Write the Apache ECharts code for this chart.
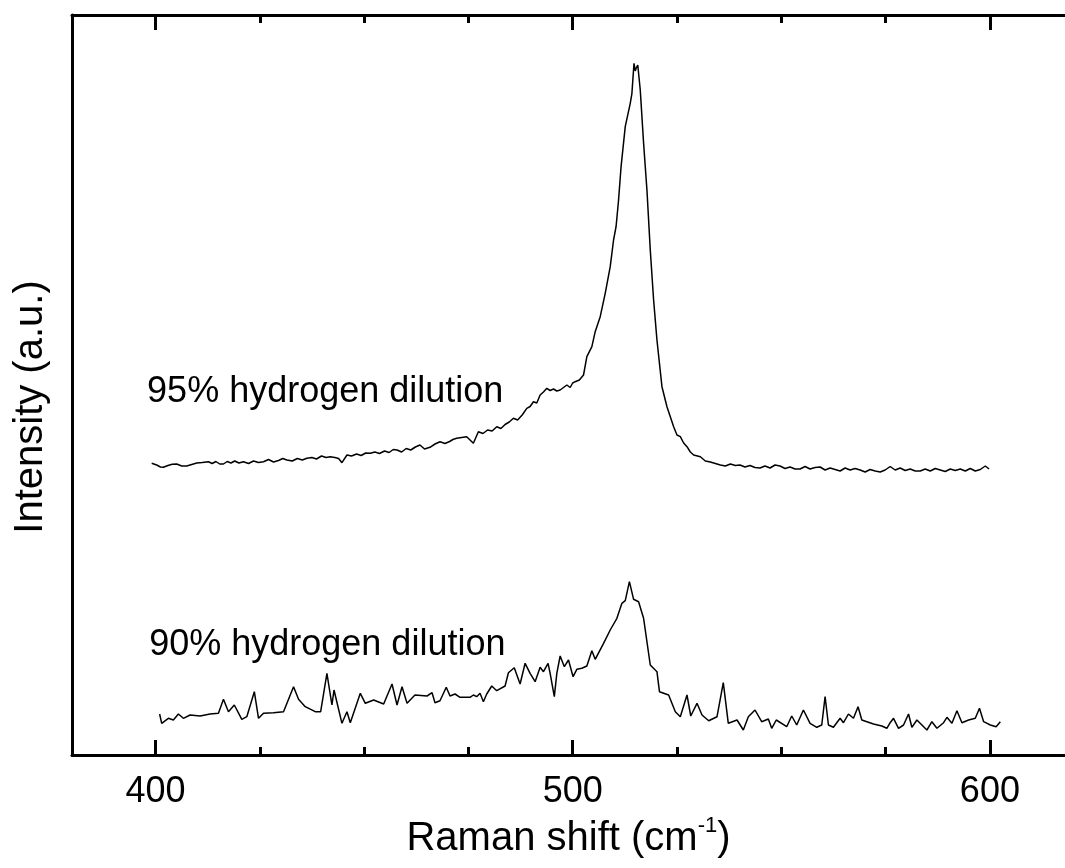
<!DOCTYPE html>
<html>
<head>
<meta charset="utf-8">
<title>Raman spectra</title>
<script src="https://cdn.jsdelivr.net/npm/echarts@6/dist/echarts.min.js"></script>
<style>
  html, body { margin: 0; padding: 0; background: #fff; }
  #chart { width: 1065px; height: 868px; }
</style>
</head>
<body>
<div id="chart"></div>
<script>
const FONT = '"Liberation Sans", Arial, Helvetica, sans-serif';

// Axis range and tick positions (Raman shift, cm^-1)
const xRange = [380, 618];
const majorTicks = [400, 500, 600];
const minorTicks = [425, 450, 475, 525, 550, 575];
const yRange = [0, 740];

// Curve names, also drawn as the labels beside each trace
const seriesNames = ['95% hydrogen dilution', '90% hydrogen dilution'];
// Where each label starts: [Raman shift, intensity]
const labelAnchors = [[398.0, 363.3], [398.5, 109.5]];

// Spectrum, 95% hydrogen dilution: [Raman shift, intensity (a.u.)]
const dilution95 = [
  [399.1, 291.7], [400.3, 290], [401.2, 288], [401.9, 287.7], [403.0, 289.5], [404.0, 290.8],
  [405.1, 291], [406.3, 289], [407.5, 289], [408.7, 290.5], [409.9, 292], [411.2, 292.5],
  [412.7, 293.3], [413.6, 291.5], [414.5, 293.5], [415.4, 291], [416.3, 291], [417.2, 293.5],
  [418.1, 292], [419.0, 294], [420.0, 292], [421.1, 293.3], [422.3, 291.5], [423.5, 294],
  [424.7, 292.5], [425.9, 293.3], [427.1, 295.5], [428.3, 293], [429.5, 294.5], [430.5, 296.5],
  [431.5, 295], [432.8, 294], [434.0, 296.5], [435.2, 295], [436.3, 296.7], [437.5, 297.5],
  [438.6, 296], [439.8, 299], [440.9, 297.5], [441.9, 298.3], [443.0, 297.5], [443.9, 296.5],
  [444.7, 292.3], [445.9, 300], [447.0, 299], [448.2, 301], [449.3, 299.5], [450.4, 302],
  [451.5, 301.7], [452.6, 303], [453.7, 301.5], [454.9, 304], [456.0, 302.5], [457.0, 305.5],
  [457.9, 305], [459.0, 303], [460.1, 306.5], [461.2, 305], [462.3, 308], [463.4, 310],
  [464.5, 306], [465.8, 307.7], [467.0, 311], [468.2, 313.3], [469.4, 311.5], [470.5, 313.5],
  [471.3, 315.5], [472.2, 316.7], [473.4, 317.5], [474.6, 318.3], [475.4, 315], [476.2, 311.7],
  [477.4, 323.3], [478.5, 321.5], [479.6, 325], [480.7, 324], [481.8, 328.3], [482.8, 326.5],
  [483.8, 330.5], [484.8, 333], [485.8, 336.7], [486.8, 335], [487.9, 340], [489.0, 346.7],
  [489.8, 348.5], [490.6, 353.3], [491.4, 352], [492.2, 360], [493.0, 363], [493.8, 366.7],
  [494.6, 364.5], [495.4, 366], [496.2, 364], [497.0, 365], [497.8, 367.5], [498.6, 370],
  [499.4, 367.5], [500.0, 372], [500.6, 373.3], [501.6, 375], [502.6, 380], [503.4, 398.3],
  [504.6, 408.3], [505.4, 423.3], [506.6, 438.3], [507.8, 461.7], [509.0, 488.3], [509.8, 515],
  [510.4, 528.3], [511.0, 555], [511.6, 588.3], [512.6, 628.3], [513.8, 651.7], [514.2, 661.7],
  [514.7, 691.7], [515.0, 684], [515.2, 686.7], [515.6, 690], [516.2, 665], [517.0, 611.7],
  [517.8, 565], [518.6, 505], [519.4, 455], [520.2, 415], [521.4, 368.3], [522.6, 348.3],
  [524.2, 328.3], [525.0, 320], [525.8, 318.3], [526.6, 312], [527.4, 308.3], [528.2, 303],
  [529.0, 300], [530.6, 298.3], [531.8, 294], [533.0, 293], [534.2, 291.5], [535.4, 290],
  [536.6, 289], [537.8, 291], [539.0, 289.5], [540.1, 290], [541.3, 288], [542.5, 289.5],
  [543.7, 287.5], [544.9, 287], [546.1, 289], [547.3, 287], [548.5, 290], [549.7, 289],
  [550.9, 286.5], [552.1, 288], [553.3, 286], [554.5, 286], [555.7, 288.5], [556.9, 286],
  [558.1, 287.5], [559.3, 288], [560.5, 285], [561.7, 287], [562.9, 285.5], [564.1, 284],
  [565.3, 287], [566.5, 285], [567.7, 286.5], [568.9, 285], [570.1, 283], [571.3, 285.5],
  [572.5, 284], [573.7, 283], [574.9, 285], [576.1, 288.5], [577.3, 285], [578.5, 287],
  [579.7, 284.5], [580.9, 286], [582.1, 284], [583.3, 284], [584.5, 286], [585.7, 284],
  [586.9, 286.5], [588.1, 285], [589.3, 283.5], [590.5, 286], [591.7, 284.5], [592.9, 286],
  [594.1, 284], [595.3, 286.5], [596.5, 284], [597.7, 285.5], [598.9, 289], [599.8, 286]
];

// Spectrum, 90% hydrogen dilution: [Raman shift, intensity (a.u.)]
const dilution90 = [
  [401.0, 41], [401.5, 31.7], [403.1, 36.7], [404.3, 35], [405.5, 41], [406.7, 36.7],
  [408.3, 40], [410.7, 39], [413.1, 41], [415.1, 41.7], [416.3, 55.7], [417.5, 43.3],
  [418.9, 50], [420.7, 35.7], [421.9, 38.3], [423.7, 63.3], [424.7, 36.7], [425.9, 41.7],
  [428.3, 42.3], [430.7, 43.3], [433.1, 68.3], [434.3, 55.7], [435.9, 48.3], [438.3, 43.3],
  [439.6, 43.3], [441.1, 81.7], [442.3, 50], [442.8, 65], [444.7, 31.7], [445.9, 43.3],
  [446.7, 32.3], [449.1, 61.7], [450.3, 51.7], [452.3, 55], [454.7, 51], [456.7, 71],
  [457.9, 50], [459.1, 68.3], [460.3, 51.7], [462.2, 60], [465.1, 59], [466.3, 62.3],
  [467.0, 52.3], [468.2, 54.3], [469.7, 67.7], [470.6, 59], [471.8, 61], [473.0, 57.7],
  [475.4, 57.7], [476.2, 60], [477.0, 58.3], [477.8, 61.7], [478.6, 53.3], [479.4, 61],
  [480.6, 69], [481.8, 64.3], [483.8, 69], [484.6, 82.3], [486.0, 87.3], [487.4, 71],
  [488.6, 91.7], [489.8, 81.7], [491.0, 73.3], [492.2, 87.7], [493.0, 83.3], [494.1, 91.7],
  [494.6, 81.7], [495.6, 58.3], [496.2, 81.7], [497.0, 99], [498.0, 88.3], [499.0, 95],
  [500.1, 78.3], [501.0, 85.7], [502.2, 86.7], [503.4, 89], [504.6, 104.3], [505.4, 95.7],
  [507.4, 111.7], [509.0, 125], [510.6, 136.7], [511.8, 151.7], [512.6, 154.3], [513.6, 173.3],
  [514.6, 155.7], [515.8, 153.3], [517.0, 136.7], [518.6, 90], [520.2, 83.3], [520.8, 63.3],
  [523.0, 60], [524.6, 43.3], [525.8, 38.3], [527.4, 60], [528.3, 39], [529.8, 51.7],
  [531.0, 40], [532.6, 34.3], [534.6, 38.3], [536.1, 72.3], [537.3, 31.7], [539.4, 35],
  [540.9, 25], [542.1, 38.3], [543.7, 45], [545.3, 33.3], [546.9, 36], [547.7, 26.7],
  [548.8, 35], [551.3, 28.3], [552.5, 39], [553.7, 30], [555.3, 45], [556.9, 31.7],
  [558.5, 27.7], [559.7, 30], [560.5, 58.3], [561.3, 30], [562.5, 27.7], [564.1, 36.7],
  [564.9, 32.3], [566.1, 41], [567.3, 36.7], [568.4, 48.3], [569.3, 35], [572.1, 31],
  [574.1, 29], [575.3, 26.7], [576.1, 32.3], [576.9, 36.7], [578.1, 26.7], [579.3, 30],
  [580.5, 41], [581.3, 27.7], [582.5, 35], [583.7, 30], [584.9, 25], [586.1, 33.3],
  [587.3, 26.7], [588.9, 32.3], [589.7, 37.7], [590.9, 31.7], [592.1, 44.3], [593.3, 32.3],
  [594.9, 35], [596.5, 36.7], [597.5, 46.7], [598.5, 33.3], [600.1, 30], [601.5, 28.3],
  [602.5, 33.3]
];

const chart = echarts.init(document.getElementById('chart'), null, { renderer: 'canvas' });

const axisLineStyle = { color: '#000', width: 3 };
const tickStyle = { color: '#000', width: 3 };

// One x axis per edge for the long ticks, one for the short ticks
function xAxisDef(position, ticks, tickLen, withLine, withLabels) {
  return {
    type: 'value',
    position: position,
    min: xRange[0],
    max: xRange[1],
    splitLine: { show: false },
    axisLine: { show: withLine, onZero: false, lineStyle: axisLineStyle },
    axisTick: { show: true, inside: true, length: tickLen, lineStyle: tickStyle, customValues: ticks },
    axisLabel: withLabels
      ? { show: true, customValues: majorTicks, fontSize: 36, fontFamily: FONT, color: '#000', margin: 19 }
      : { show: false }
  };
}

const bottomMajor = xAxisDef('bottom', majorTicks, 15, true, true);
bottomMajor.name = '{t|Raman shift (cm}{s|-1}{t|)}';
bottomMajor.nameLocation = 'middle';
bottomMajor.nameGap = 52;
bottomMajor.nameTextStyle = {
  rich: {
    t: { fontSize: 40, lineHeight: 48, fontFamily: FONT, color: '#000' },
    s: { fontSize: 22, lineHeight: 22, fontFamily: FONT, color: '#000', verticalAlign: 'top' }
  }
};

const option = {
  backgroundColor: '#fff',
  animation: false,
  grid: { left: 72, top: 15, bottom: 113, right: 0, containLabel: false },
  xAxis: [
    bottomMajor,
    xAxisDef('bottom', minorTicks, 8, false, false),
    xAxisDef('top', majorTicks, 15, true, false),
    xAxisDef('top', minorTicks, 8, false, false)
  ],
  yAxis: [{
    type: 'value',
    position: 'left',
    min: yRange[0],
    max: yRange[1],
    splitLine: { show: false },
    axisTick: { show: false },
    axisLabel: { show: false },
    axisLine: { show: true, onZero: false, lineStyle: axisLineStyle },
    name: 'Intensity (a.u.)',
    nameLocation: 'middle',
    nameGap: 21,
    nameTextStyle: { fontSize: 40, fontFamily: FONT, color: '#000', padding: [0, 44, 0, 0] }
  }],
  series: [
    {
      name: seriesNames[0],
      type: 'line',
      data: dilution95,
      xAxisIndex: 0,
      yAxisIndex: 0,
      showSymbol: false,
      smooth: false,
      lineStyle: { color: '#000', width: 1.5 }
    },
    {
      name: seriesNames[1],
      type: 'line',
      data: dilution90,
      xAxisIndex: 0,
      yAxisIndex: 0,
      showSymbol: false,
      smooth: false,
      lineStyle: { color: '#000', width: 1.5 }
    }
  ]
};

chart.setOption(option);

// Curve labels, placed through the same axes as the data
const labels = seriesNames.map(function (text, i) {
  const p = chart.convertToPixel({ xAxisIndex: 0, yAxisIndex: 0 }, labelAnchors[i]);
  return {
    type: 'text',
    x: p[0],
    y: p[1],
    silent: true,
    style: {
      text: text,
      fill: '#000',
      font: '36px ' + FONT,
      align: 'left',
      verticalAlign: 'middle'
    }
  };
});
chart.setOption({ graphic: labels });
</script>
</body>
</html>
